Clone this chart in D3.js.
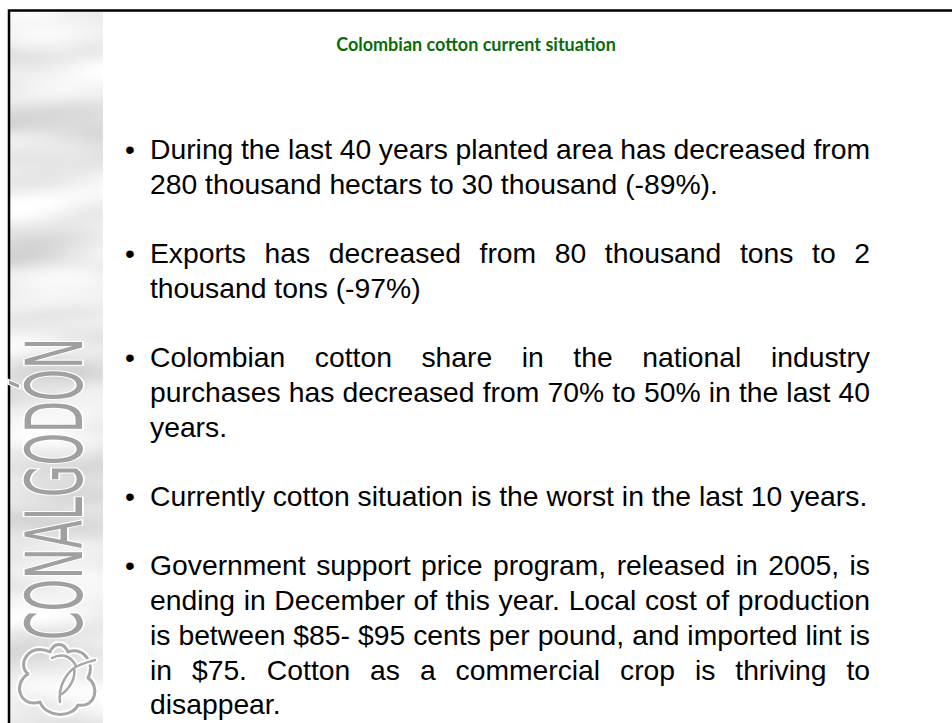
<!DOCTYPE html>
<html>
<head>
<meta charset="utf-8">
<script src="https://cdn.jsdelivr.net/npm/d3@7/dist/d3.min.js"></script>
<style>
  html, body { margin: 0; padding: 0; background: #ffffff; }
  svg { display: block; }
</style>
</head>
<body>
<script>
// ---------- content ----------
const titleText = "Colombian cotton current situation";
const logoText = "CONALGODÓN";
const bullet1 = ["During the last 40 years planted area has decreased from",
                 "280 thousand hectars to 30 thousand (-89%)."];
const bullet2 = ["Exports has decreased from 80 thousand tons to 2",
                 "thousand tons (-97%)"];
const bullet3 = ["Colombian cotton share in the national industry",
                 "purchases has decreased from 70% to 50% in the last 40",
                 "years."];
const bullet4 = ["Currently cotton situation is the worst in the last 10 years."];
const bullet5 = ["Government support price program, released in 2005, is",
                 "ending in December of this year. Local cost of production",
                 "is between $85- $95 cents per pound, and imported lint is",
                 "in $75. Cotton as a commercial crop is thriving to",
                 "disappear."];
const bullets = [bullet1, bullet2, bullet3, bullet4, bullet5];

// ---------- layout ----------
const W = 952, H = 723;
const textLeft = 150, textRight = 870, bulletX = 125;
const firstBaseline = 159, lineH = 34.7, fontSize = 28.3;
const bodyFont = "'Liberation Sans', Arial, sans-serif";

const svg = d3.select("body").append("svg")
  .attr("width", W).attr("height", H);

const defs = svg.append("defs");
const f = defs.append("filter").attr("id", "silk")
  .attr("x", 0).attr("y", 0).attr("width", 1).attr("height", 1);
f.append("feTurbulence").attr("type", "fractalNoise")
  .attr("baseFrequency", "0.006 0.022").attr("numOctaves", 2).attr("seed", 11);
f.append("feColorMatrix").attr("type", "matrix")
  .attr("values", "0.6 0 0 0 0.52  0.6 0 0 0 0.52  0.6 0 0 0 0.52  0 0 0 0 1");

// left textured band
svg.append("rect").attr("x", 10).attr("y", 11).attr("width", 93).attr("height", H)
  .attr("fill", "#d6d6d6");
svg.append("rect").attr("x", 10).attr("y", 11).attr("width", 93).attr("height", H)
  .attr("filter", "url(#silk)");

// slide frame
svg.append("rect").attr("x", 9).attr("y", 10.5).attr("width", 1200).attr("height", 1200)
  .attr("fill", "none").attr("stroke", "#000").attr("stroke-width", 2.5);

// vertical logo text
svg.append("text")
  .attr("transform", "translate(82,640) rotate(-90)")
  .attr("font-family", "'DejaVu Sans', sans-serif")
  .attr("font-size", 78)
  .attr("textLength", 302).attr("lengthAdjust", "spacingAndGlyphs")
  .attr("fill", "#a0a0a0")
  .attr("stroke", "#ffffff").attr("stroke-width", 3.5)
  .attr("paint-order", "stroke")
  .text(logoText);

// cotton boll icon
const boll = d3.path();
boll.moveTo(50, 652);
boll.bezierCurveTo(30, 642, 16, 664, 28, 674);
boll.bezierCurveTo(12, 684, 20, 708, 40, 702);
boll.bezierCurveTo(46, 718, 72, 718, 78, 705);
boll.bezierCurveTo(96, 708, 100, 686, 88, 678);
boll.bezierCurveTo(96, 662, 82, 646, 68, 652);
boll.bezierCurveTo(64, 642, 54, 642, 50, 652);
boll.closePath();
const leaf = d3.path();
leaf.moveTo(60, 702);
leaf.bezierCurveTo(58, 687, 66, 674, 74, 668);
leaf.bezierCurveTo(80, 664, 88, 662, 95, 660);
leaf.moveTo(62, 694);
leaf.bezierCurveTo(70, 688, 76, 678, 74, 668);
leaf.moveTo(52, 658);
leaf.bezierCurveTo(64, 652, 72, 658, 76, 666);
[[boll, 7, "#ffffff"], [boll, 3, "#a6a6a6"], [leaf, 6, "#ffffff"], [leaf, 2.5, "#a6a6a6"]]
  .forEach(([p, w, c]) => svg.append("path").attr("d", p.toString())
    .attr("fill", "none").attr("stroke", c).attr("stroke-width", w)
    .attr("stroke-linecap", "round").attr("stroke-linejoin", "round"));

// title
svg.append("text")
  .attr("x", 476).attr("y", 51)
  .attr("text-anchor", "middle")
  .attr("font-family", "Lato, 'Open Sans', sans-serif")
  .attr("font-weight", "bold")
  .attr("font-size", 18)
  .attr("fill", "#0b6b0b")
  .text(titleText);

// body bullets, justified
const body = svg.append("g")
  .attr("font-family", bodyFont).attr("font-size", fontSize).attr("fill", "#000");

const measurer = body.append("text").attr("visibility", "hidden");
function wordWidth(s) { measurer.text(s); return measurer.node().getComputedTextLength(); }
const spaceW = wordWidth("a a") - wordWidth("aa");

let lineIndex = 0;
bullets.forEach((lines) => {
  const y0 = firstBaseline + lineIndex * lineH;
  body.append("text").attr("x", bulletX).attr("y", y0).text("•");
  lines.forEach((line, li) => {
    const y = firstBaseline + (lineIndex + li) * lineH;
    const words = line.split(" ");
    const widths = words.map(wordWidth);
    const isLast = li === lines.length - 1;
    let gap = spaceW;
    if (!isLast && words.length > 1) {
      gap = (textRight - textLeft - d3.sum(widths)) / (words.length - 1);
    }
    let x = textLeft;
    words.forEach((w, wi) => {
      body.append("text").attr("x", x).attr("y", y).text(w);
      x += widths[wi] + gap;
    });
  });
  lineIndex += lines.length + 1;
});
measurer.remove();
</script>
</body>
</html>
